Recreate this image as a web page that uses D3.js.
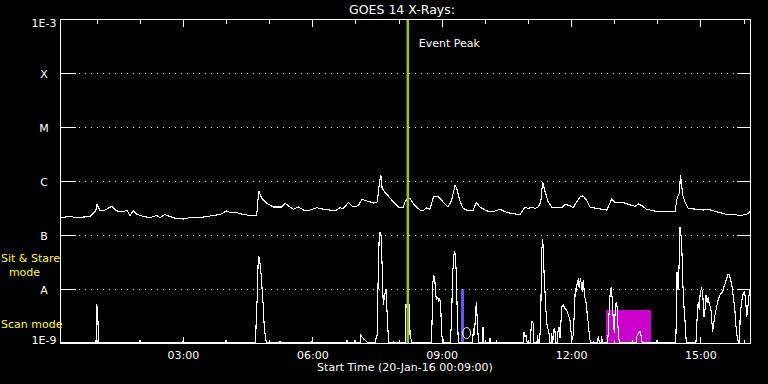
<!DOCTYPE html>
<html><head><meta charset="utf-8">
<script src="https://cdn.jsdelivr.net/npm/d3@7"></script>
<style>html,body{margin:0;padding:0;background:#000;}svg{display:block}</style>
</head><body><svg id="c" width="768" height="384"></svg>
<script>
// ---------------- data ----------------
const titleText = "GOES 14 X-Rays:";
const xAxisTitle = "Start Time (20-Jan-16 00:09:00)";
const timeDomain = [0.15, 16.15];               // hours UT, 20-Jan-16
const hourTicks = d3.range(1, 17);
const labeledHours = [3, 6, 9, 12, 15];
const fluxTicks = [1e-9, 1e-8, 1e-7, 1e-6, 1e-5, 1e-4, 1e-3];
const fluxTickLabels = ["1E-9", "A", "B", "C", "M", "X", "1E-3"];
const gridFlux = [1e-8, 1e-7, 1e-6, 1e-5, 1e-4];
const eventPeakHour = 8.215;
const eventLabel = "Event Peak";
const modeLabels = ["Sit & Stare", "mode", "Scan mode"];
const blueBar = [9.45, 9.52, 1e-8];             // start, end, top flux
const scanBox = [12.81, 13.85, 4.1e-9];         // start, end, top flux
const circleMark = [9.58, 1.53e-9];

const goesTime = [
 0.15,0.38,0.54,0.85,0.92,0.98,1.01,1.08,1.19,1.35,
 1.46,1.62,1.70,1.77,1.85,1.94,2.08,2.24,2.39,2.47,
 2.58,2.70,2.86,3.01,3.16,3.40,3.55,3.71,3.86,4.02,
 4.09,4.25,4.40,4.56,4.71,4.76,4.83,4.94,5.10,5.29,
 5.37,5.48,5.56,5.68,5.83,5.95,6.10,6.26,6.41,6.53,
 6.64,6.72,6.84,6.95,7.07,7.15,7.26,7.42,7.51,7.55,
 7.59,7.62,7.69,7.76,7.88,8.00,8.11,8.15,8.23,8.28,
 8.38,8.50,8.57,8.65,8.73,8.81,8.92,9.00,9.08,9.15,
 9.23,9.31,9.35,9.43,9.50,9.62,9.73,9.80,9.89,10.04,
 10.20,10.35,10.47,10.62,10.82,10.93,11.01,11.09,11.16,11.24,
 11.30,11.34,11.40,11.47,11.55,11.67,11.78,11.86,11.98,12.05,
 12.13,12.21,12.28,12.36,12.44,12.60,12.83,12.94,13.02,13.21,
 13.37,13.48,13.56,13.64,13.75,13.91,14.06,14.22,14.41,14.46,
 14.51,14.54,14.59,14.64,14.72,14.91,15.07,15.18,15.30,15.45,
 15.61,15.76,15.92,16.07,16.15];
const goesFlux = [
 2.1e-7,2.2e-7,2.1e-7,2.2e-7,2.5e-7,2.8e-7,3.7e-7,2.8e-7,2.9e-7,3.4e-7,
 2.8e-7,2.7e-7,2.9e-7,2.3e-7,2.8e-7,2.4e-7,2.2e-7,2.1e-7,2.3e-7,2.1e-7,
 2.4e-7,2.2e-7,2.0e-7,1.98e-7,2.1e-7,2.1e-7,2.2e-7,2.3e-7,2.4e-7,2.8e-7,
 2.6e-7,2.6e-7,2.4e-7,2.3e-7,2.3e-7,6.5e-7,4.8e-7,3.9e-7,3.3e-7,3.3e-7,
 3.9e-7,3.3e-7,3.0e-7,3.3e-7,2.8e-7,2.9e-7,3.2e-7,3.0e-7,2.9e-7,2.8e-7,
 3.2e-7,3.1e-7,4.0e-7,3.3e-7,3.5e-7,4.6e-7,4.3e-7,3.9e-7,4.1e-7,8.4e-7,
 1.3e-6,7.3e-7,6.1e-7,5.3e-7,4.1e-7,3.3e-7,3.2e-7,4.1e-7,4.9e-7,4.6e-7,
 3.5e-7,2.9e-7,2.8e-7,3.2e-7,3.0e-7,5.1e-7,5.1e-7,4.4e-7,3.7e-7,3.3e-7,
 4.4e-7,8.2e-7,7.3e-7,4.1e-7,3.1e-7,2.8e-7,2.9e-7,4.0e-7,3.3e-7,2.8e-7,
 2.7e-7,3.0e-7,2.7e-7,2.5e-7,2.4e-7,3.3e-7,3.1e-7,3.3e-7,3.1e-7,3.3e-7,
 4.1e-7,9.7e-7,6.3e-7,4.1e-7,3.3e-7,3.2e-7,3.2e-7,3.7e-7,3.5e-7,3.2e-7,
 4.1e-7,5.1e-7,5.3e-7,4.4e-7,3.3e-7,3.1e-7,2.9e-7,4.6e-7,4.0e-7,4.0e-7,
 3.6e-7,3.4e-7,3.75e-7,3.5e-7,3.0e-7,2.8e-7,2.7e-7,2.7e-7,2.7e-7,4.8e-7,
 5.9e-7,1.3e-6,5.5e-7,4.1e-7,3.1e-7,3.0e-7,2.9e-7,3.0e-7,2.8e-7,2.6e-7,
 2.4e-7,2.4e-7,2.3e-7,2.4e-7,2.7e-7];

// second (lower) trace: [hour, value]
const lowerSeries = [
 [0.150,1e-9],[0.985,1e-9],[1.001,5.27e-9],[1.024,3.75e-9],[1.038,1.6e-9],[1.054,1e-9],
 [1.998,1e-9],[2.005,1.14e-9],[2.012,1e-9],[3.002,1e-9],[3.009,1.28e-9],[3.018,1e-9],
 [3.992,1e-9],[3.999,1.14e-9],[4.006,1e-9],
 [4.688,1e-9],[4.695,1.95e-9],[4.725,7.74e-9],[4.748,4.08e-8],[4.771,3.71e-8],[4.794,2.67e-8],
 [4.817,1.74e-8],[4.841,8.54e-9],[4.864,4.84e-9],[4.887,1.87e-9],[4.910,1.35e-9],[4.933,1.06e-9],[4.950,1e-9],
 [5.244,1e-9],[5.251,1.09e-9],[5.267,1e-9],[5.993,1e-9],[6.000,1.31e-9],[6.009,1e-9],
 [6.798,1e-9],[6.805,1.14e-9],[6.821,1e-9],[6.984,1e-9],[6.990,1.14e-9],[6.997,1e-9],
 [7.113,1e-9],[7.123,1.41e-9],[7.160,1.28e-9],[7.199,1.17e-9],[7.262,1.06e-9],[7.292,1e-9],
 [7.470,1e-9],[7.477,1.22e-9],[7.507,1.41e-9],[7.531,2.59e-8],[7.554,1.0e-7],[7.577,1.15e-7],
 [7.600,9.31e-8],[7.623,2.09e-8],[7.646,5.05e-9],[7.670,6.73e-9],[7.693,8.91e-9],[7.716,9.58e-9],
 [7.739,2.87e-9],[7.772,1e-9],
 [7.872,1e-9],[7.879,1.06e-9],[7.895,1e-9],[8.011,1e-9],[8.018,1.14e-9],[8.027,1e-9],
 [8.166,1e-9],[8.173,5.05e-9],[8.259,5.05e-9],[8.266,1.41e-9],[8.305,1.06e-9],[8.319,1e-9],
 [8.760,1e-9],[8.769,1.14e-9],[8.792,1.19e-8],[8.815,1.82e-8],[8.839,1.58e-8],[8.862,7.74e-9],
 [8.885,6.25e-9],[8.908,7.2e-9],[8.931,5.82e-9],[8.954,6.73e-9],[8.977,5.27e-9],[9.001,1.31e-9],
 [9.024,1.31e-9],[9.038,1e-9],
 [9.200,1e-9],[9.209,1.22e-9],[9.233,3.55e-9],[9.256,1.95e-8],[9.279,3.71e-8],[9.293,4.91e-8],
 [9.316,4.58e-8],[9.339,1.95e-8],[9.362,3.55e-9],[9.386,1.06e-9],[9.402,1e-9],
 [9.720,1e-9],[9.733,1.87e-9],[9.757,1.41e-9],[9.780,2.67e-9],[9.803,5.82e-9],[9.826,2.67e-9],
 [9.849,1.22e-9],[9.866,1e-9],[9.951,1e-9],[9.958,1.95e-9],[9.981,1e-9],
 [10.114,1e-9],[10.120,1.22e-9],[10.137,1e-9],[10.267,1e-9],[10.276,1.06e-9],[10.290,1e-9],
 [10.902,1e-9],[10.909,1.62e-9],[10.932,1.31e-9],[10.955,1.41e-9],[10.986,1e-9],
 [11.065,1e-9],[11.071,1.74e-9],[11.095,2.48e-9],[11.125,2.32e-9],[11.141,1e-9],
 [11.211,1e-9],[11.218,1.41e-9],[11.250,1e-9],
 [11.273,1e-9],[11.280,1.41e-9],[11.296,2.48e-9],[11.310,1.47e-8],[11.326,5.67e-8],[11.343,8.32e-8],
 [11.357,5.27e-8],[11.380,1.47e-8],[11.403,7.2e-9],[11.426,3.07e-9],[11.449,2.0e-9],[11.473,1.74e-9],
 [11.496,1.41e-9],[11.512,1e-9],
 [11.542,1e-9],[11.551,1.51e-9],[11.575,1e-9],[11.598,1.74e-9],[11.621,1.87e-9],[11.651,1e-9],
 [11.691,1e-9],[11.697,1.62e-9],[11.721,2.0e-9],[11.744,1.24e-9],[11.767,2.48e-9],[11.790,4.70e-9],
 [11.821,5.05e-9],[11.860,4.39e-9],[11.899,4.08e-9],[11.936,3.30e-9],[11.976,2.67e-9],[11.999,1.62e-9],
 [12.022,1.14e-9],[12.052,1.41e-9],[12.076,3.55e-9],[12.099,1.03e-8],[12.122,8.91e-9],[12.145,1.36e-8],
 [12.168,1.47e-8],[12.191,1.03e-8],[12.215,1.58e-8],[12.238,1.28e-8],[12.261,8.91e-9],[12.284,1.47e-8],
 [12.307,8.91e-9],[12.330,6.25e-9],[12.353,5.43e-9],[12.377,3.30e-9],[12.400,2.32e-9],[12.423,1.41e-9],
 [12.446,1.06e-9],[12.462,1e-9],
 [12.509,1e-9],[12.516,1.06e-9],[12.532,1e-9],[12.602,1e-9],[12.609,1.14e-9],[12.641,1.28e-9],[12.655,1e-9],
 [12.702,1e-9],[12.711,1.35e-9],[12.725,1e-9],
 [12.850,1e-9],[12.864,1.74e-9],[12.887,4.39e-9],[12.910,8.91e-9],[12.933,1.10e-8],[12.956,6.25e-9],
 [12.980,2.67e-9],[13.003,1.51e-9],[13.026,4.39e-9],[13.049,5.82e-9],[13.072,4.39e-9],[13.095,1.51e-9],
 [13.118,1.06e-9],[13.135,1e-9],
 [13.420,1e-9],[13.430,1.06e-9],[13.443,1e-9],
 [13.513,1e-9],[13.522,1.31e-9],[13.559,1.51e-9],[13.599,1.62e-9],[13.629,1.31e-9],[13.652,1e-9],
 [13.977,1e-9],[13.986,1.14e-9],[13.993,1e-9],
 [14.427,1e-9],[14.434,1.51e-9],[14.457,2.09e-8],[14.480,9.58e-9],[14.503,2.42e-8],[14.527,1.43e-7],
 [14.550,1.0e-7],[14.573,4.58e-8],[14.596,1.10e-8],[14.619,4.70e-9],[14.642,2.67e-9],[14.666,1.22e-9],
 [14.689,1e-9],
 [14.891,1e-9],[14.898,1.06e-9],[14.928,3.55e-9],[14.951,5.82e-9],[14.974,4.08e-9],[14.997,8.91e-9],
 [15.030,1.03e-8],[15.053,8.32e-9],[15.083,3.07e-9],[15.106,4.08e-9],[15.130,7.74e-9],[15.160,5.43e-9],
 [15.183,7.2e-9],[15.206,5.05e-9],[15.239,4.70e-9],[15.262,2.67e-9],[15.285,1.62e-9],[15.308,2.32e-9],
 [15.332,3.07e-9],[15.362,4.08e-9],[15.392,5.43e-9],[15.424,6.73e-9],[15.454,7.74e-9],[15.485,8.32e-9],
 [15.517,8.91e-9],[15.547,1.10e-8],[15.577,1.28e-8],[15.610,1.58e-8],[15.640,1.90e-8],[15.670,1.82e-8],
 [15.703,1.47e-8],[15.733,1.10e-8],[15.763,7.2e-9],[15.796,4.39e-9],[15.826,2.0e-9],[15.856,1.22e-9],
 [15.889,1e-9],[15.912,1e-9],[15.919,2.67e-9],[15.949,5.43e-9],[15.982,7.74e-9],[16.012,8.91e-9],
 [16.042,7.2e-9],[16.075,3.07e-9],[16.105,5.05e-9],[16.135,8.91e-9],[16.150,9.58e-9]];

// ---------------- chart ----------------
const W = 768, H = 384;
const L = 60, R = 750, T = 19, B = 343;
const FONT = "'DejaVu Sans', sans-serif";
const svg = d3.select("#c");
svg.append("rect").attr("width", W).attr("height", H).attr("fill", "#000");

const x = d3.scaleLinear().domain(timeDomain).range([L, R]);
const y = d3.scaleLog().domain([fluxTicks[0], fluxTicks[fluxTicks.length - 1]]).range([B, T]).clamp(true);
const fmtHour = h => d3.format("02d")(h) + ":00";

// dotted grid lines
svg.append("g").selectAll("line").data(gridFlux).join("line")
  .attr("x1", L + 1).attr("x2", R)
  .attr("y1", d => Math.round(y(d)) + 0.5).attr("y2", d => Math.round(y(d)) + 0.5)
  .attr("stroke", "#fff").attr("stroke-width", 1).attr("stroke-dasharray", "1 5")
  .attr("shape-rendering", "crispEdges");

// scan-mode box and sit&stare bar
svg.append("rect")
  .attr("x", Math.round(x(scanBox[0]))).attr("width", Math.round(x(scanBox[1]) - x(scanBox[0])))
  .attr("y", Math.round(y(scanBox[2]))).attr("height", B - Math.round(y(scanBox[2])))
  .attr("fill", "#cc00cc");
svg.append("rect")
  .attr("x", Math.round(x(blueBar[0]))).attr("width", Math.round(x(blueBar[1]) - x(blueBar[0])))
  .attr("y", Math.round(y(blueBar[2]))).attr("height", B - Math.round(y(blueBar[2])))
  .attr("fill", "#5a5aff");
svg.append("ellipse")
  .attr("cx", x(circleMark[0])).attr("cy", y(circleMark[1]))
  .attr("rx", 4).attr("ry", 5.5)
  .attr("fill", "none").attr("stroke", "#fff").attr("stroke-width", 1);

// traces
const line = d3.line().x(d => x(d[0])).y(d => y(d[1]));
svg.append("path").datum(lowerSeries).attr("d", line)
  .attr("fill", "none").attr("stroke", "#fff").attr("stroke-width", 1.1)
  .attr("shape-rendering", "crispEdges");
svg.append("path").datum(goesTime.map((t, i) => [t, goesFlux[i]])).attr("d", line)
  .attr("fill", "none").attr("stroke", "#fff").attr("stroke-width", 1.1)
  .attr("shape-rendering", "crispEdges");

// event peak
svg.append("line")
  .attr("x1", x(eventPeakHour)).attr("x2", x(eventPeakHour))
  .attr("y1", T).attr("y2", B)
  .attr("stroke", "#99cc00").attr("stroke-width", 2.5);
svg.append("text").text(eventLabel)
  .attr("x", x(eventPeakHour) + 11).attr("y", 46.5)
  .attr("fill", "#fff").attr("font-family", FONT).attr("font-size", 11);

// frame
svg.append("rect").attr("x", L + 0.5).attr("y", T + 0.5).attr("width", R - L).attr("height", B - T)
  .attr("fill", "none").attr("stroke", "#fff").attr("stroke-width", 1).attr("shape-rendering", "crispEdges");

function styleAxis(g) {
  g.select(".domain").remove();
  g.selectAll("line").attr("stroke", "#fff").attr("shape-rendering", "crispEdges");
  g.selectAll("text").attr("fill", "#fff").attr("font-family", FONT).attr("font-size", 11);
}
// x axes: minor hourly ticks + major labeled ticks, top and bottom
svg.append("g").attr("transform", `translate(0,${B + 0.5})`)
  .call(d3.axisBottom(x).tickValues(hourTicks).tickSize(-4).tickFormat(""))
  .call(styleAxis);
svg.append("g").attr("transform", `translate(0,${B + 0.5})`)
  .call(d3.axisBottom(x).tickValues(labeledHours).tickSize(-7).tickPadding(8).tickFormat(fmtHour))
  .call(styleAxis);
svg.append("g").attr("transform", `translate(0,${T + 0.5})`)
  .call(d3.axisTop(x).tickValues(hourTicks).tickSize(-4).tickFormat(""))
  .call(styleAxis);
svg.append("g").attr("transform", `translate(0,${T + 0.5})`)
  .call(d3.axisTop(x).tickValues(labeledHours).tickSize(-7).tickFormat(""))
  .call(styleAxis);

// y axes
const yl = svg.append("g").attr("transform", `translate(${L + 0.5},0)`)
  .call(d3.axisLeft(y).tickValues(fluxTicks).tickSize(-15).tickFormat((d, i) => fluxTickLabels[i]))
  .call(styleAxis);
yl.selectAll(".tick").attr("transform", d => `translate(0,${Math.round(y(d)) + 0.5})`);
yl.selectAll("text").attr("text-anchor", "middle").attr("x", -16.5)
  .attr("dy", null).attr("dominant-baseline", "central")
  .attr("y", d => Math.min(Math.max(y(d) + 1, T + 4), B - 3) - Math.round(y(d)));
const yr = svg.append("g").attr("transform", `translate(${R + 0.5},0)`)
  .call(d3.axisRight(y).tickValues(fluxTicks).tickSize(-14).tickFormat(""))
  .call(styleAxis);
yr.selectAll(".tick").attr("transform", d => `translate(0,${Math.round(y(d)) + 0.5})`);

// titles
svg.append("text").text(titleText).attr("x", 402).attr("y", 13.5).attr("text-anchor", "middle")
  .attr("fill", "#fff").attr("font-family", FONT).attr("font-size", 12.5);
svg.append("text").text(xAxisTitle).attr("x", 405).attr("y", 371).attr("text-anchor", "middle")
  .attr("fill", "#fff").attr("font-family", FONT).attr("font-size", 11);

// mode labels
svg.append("text").text(modeLabels[0]).attr("x", 1).attr("y", 262)
  .attr("fill", "#ffff00").attr("font-family", FONT).attr("font-size", 11);
svg.append("text").text(modeLabels[1]).attr("x", 24.5).attr("y", 276).attr("text-anchor", "middle")
  .attr("fill", "#ffff00").attr("font-family", FONT).attr("font-size", 11);
svg.append("text").text(modeLabels[2]).attr("x", 1).attr("y", 328)
  .attr("fill", "#ffff00").attr("font-family", FONT).attr("font-size", 11);
</script></body></html>
